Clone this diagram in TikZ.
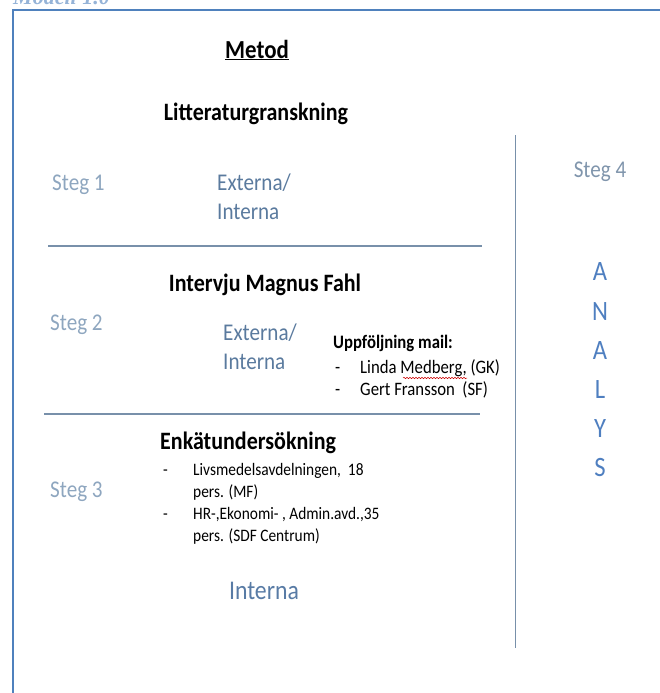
\documentclass[tikz,border=0pt]{standalone}
\usepackage{xcolor}
\usepackage{fontspec}
\setmainfont{Carlito}[FakeStretch=0.88]
\newfontfamily\captionfont{Liberation Serif}
\usepackage{tikz}
\usetikzlibrary{positioning,calc,decorations.pathmorphing}
\definecolor{frameblue}{HTML}{4F81BD}
\definecolor{capblue}{HTML}{95B3D7}
\definecolor{steggray}{HTML}{8EA6BF}
\definecolor{extblue}{HTML}{5A7A9E}
\definecolor{analysblue}{HTML}{4F7FC0}
\definecolor{rulegray}{HTML}{7890AA}
\tikzset{
  m/frame/.style={draw=frameblue, line width=1.8pt},
  m/rule/.style={draw=rulegray, line width=1.3pt},
  m/caption/.style={text=capblue, font=\captionfont\bfseries\itshape\fontsize{22}{26}\selectfont, inner sep=0pt},
  m/steg/.style={text=steggray, font=\fontsize{24}{29}\selectfont, inner sep=0pt},
  m/extint/.style={text=extblue, font=\fontsize{24}{29}\selectfont, align=left, inner sep=0pt},
  m/title/.style={font=\bfseries\fontsize{25}{30}\selectfont, inner sep=0pt},
  m/subtitle/.style={font=\bfseries\fontsize{19}{22}\selectfont, inner sep=0pt},
  m/list/.style={font=\fontsize{18}{22}\selectfont, inner sep=0pt, anchor=base west},
  m/letter/.style={text=analysblue, font=\fontsize{28}{34}\selectfont, inner sep=0pt},
  m/wave/.style={draw=red!80!black, line width=0.5pt, decorate,
    decoration={snake, amplitude=0.7pt, segment length=3pt}}
}

\begin{document}
\begin{tikzpicture}[x=1pt,y=-1pt]
  \useasboundingbox (0,0) rectangle (659,693);

  % caption above the frame, cut by the page edge
  \node[m/caption, anchor=base west] (modell) at (13,5) {Modell 1.0};
  \draw[m/frame] (665,10) -- (13,10) -- (13,700);

  \node[m/title, font=\bfseries\fontsize{26}{30}\selectfont] (metod) at (257,50) {\underline{Metod}};

  % Steg 1
  \node[m/title] (litt) at (256,114) {Litteraturgranskning};
  \node[m/steg, anchor=west] (steg1) at (52,185) {Steg 1};
  \node[m/extint, anchor=west] (ext1) at (217,197) {Externa/\\Interna};
  \draw[m/rule] (48,246) -- (482,246);

  % Steg 2
  \node[m/title] (intervju) at (265,285) {Intervju Magnus Fahl};
  \node[m/steg, anchor=west] (steg2) at (50,325) {Steg 2};
  \node[m/extint, anchor=west] (ext2) at (223,347) {Externa/\\Interna};
  \node[m/subtitle, anchor=west] (upp) at (333,343) {Uppföljning mail:};
  \node[m/list, font=\fontsize{19}{22}\selectfont] (upplist) at (335,373)
    {\begin{tabular}[t]{@{}p{25pt}@{}l@{}}
     - & Linda Medberg, (GK)\\
     - & Gert Fransson\ \ (SF)
     \end{tabular}};
  \draw[m/wave] ($(upplist.base west)+(68,5)$) -- ++(64,0);
  \draw[m/rule] (44,414) -- (480,414);

  % Steg 3
  \node[m/title, anchor=west] (enkat) at (160,443) {Enkätundersökning};
  \node[m/steg, anchor=west] (steg3) at (50,492) {Steg 3};
  \node[m/list, font=\fontsize{17.5}{22}\selectfont] (enklist) at (163,475)
    {\begin{tabular}[t]{@{}p{30pt}@{}l@{}}
     - & Livsmedelsavdelningen,\ \ 18\\
       & pers. (MF)\\
     - & HR-,Ekonomi- , Admin.avd.,35\\
       & pers. (SDF Centrum)
     \end{tabular}};
  \node[m/extint, font=\fontsize{27}{32}\selectfont, text=extblue!80!analysblue] (interna) at (264,591) {Interna};

  % Steg 4
  \draw[m/rule, line width=1pt] (515,135) -- (515,648);
  \node[m/steg, text=steggray!90!black] (steg4) at (600,172) {Steg 4};
  \foreach \l [count=\i] in {A,N,A,L,Y,S}
    \node[m/letter] (an\i) at (600,{272+(\i-1)*39.2}) {\l};
\end{tikzpicture}
\end{document}
